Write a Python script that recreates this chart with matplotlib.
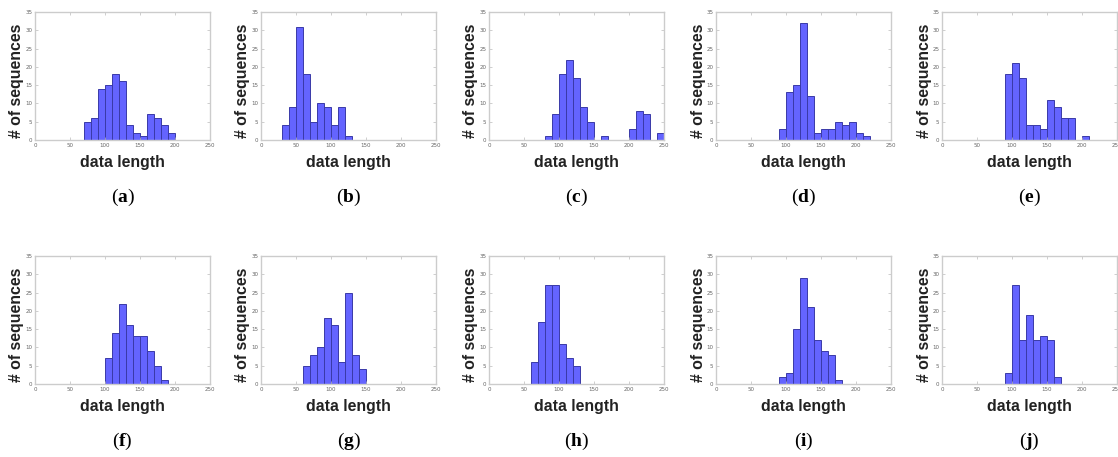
import numpy as np
import matplotlib
matplotlib.use("Agg")
import matplotlib.pyplot as plt

plt.rcParams["mathtext.fontset"] = "custom"
plt.rcParams["mathtext.rm"] = "Liberation Serif"
plt.rcParams["mathtext.bf"] = "Liberation Serif:bold"

# ---- data: histogram counts per panel (bin width 10), first bin left edge ----
bin_width = 10
start_a = 70;  counts_a = [5, 6, 14, 15, 18, 16, 4, 2, 1, 7, 6, 4, 2]
start_b = 30;  counts_b = [4, 9, 31, 18, 5, 10, 9, 4, 9, 1]
start_c = 80;  counts_c = [1, 7, 18, 22, 17, 9, 5, 0, 1, 0, 0, 0, 3, 8, 7, 0, 2]
start_d = 90;  counts_d = [3, 13, 15, 32, 12, 2, 3, 3, 5, 4, 5, 2, 1]
start_e = 90;  counts_e = [18, 21, 17, 4, 4, 3, 11, 9, 6, 6, 0, 1]
start_f = 100; counts_f = [7, 14, 22, 16, 13, 13, 9, 5, 1]
start_g = 60;  counts_g = [5, 8, 10, 18, 16, 6, 25, 8, 4]
start_h = 60;  counts_h = [6, 17, 27, 27, 11, 7, 5]
start_i = 90;  counts_i = [2, 3, 15, 29, 21, 12, 9, 8, 1]
start_j = 90;  counts_j = [3, 27, 12, 19, 12, 13, 12, 2]

panel_labels = ["a", "b", "c", "d", "e", "f", "g", "h", "i", "j"]
starts = [start_a, start_b, start_c, start_d, start_e,
          start_f, start_g, start_h, start_i, start_j]
counts = [counts_a, counts_b, counts_c, counts_d, counts_e,
          counts_f, counts_g, counts_h, counts_i, counts_j]
x_ticks = [0, 50, 100, 150, 200, 250]
y_ticks = [0, 5, 10, 15, 20, 25, 30, 35]
x_label = "data length"
y_label = "# of sequences"

# ---- figure ----
W, H = 1118, 457
fig = plt.figure(figsize=(W / 100, H / 100), dpi=100)

lefts = [35, 261, 489, 716, 942]
ax_w = 175
row_tops = [12, 256]
ax_h = 128

def px_rect(l, t, w, h):
    return [l / W, 1 - (t + h) / H, w / W, h / H]

for k in range(10):
    r, c = divmod(k, 5)
    l, t = lefts[c], row_tops[r]
    ax = fig.add_axes(px_rect(l, t, ax_w, ax_h))
    cnt = np.array(counts[k])
    xs = starts[k] + bin_width * np.arange(len(cnt))
    m = cnt > 0
    ax.bar(xs[m], cnt[m], width=bin_width, align="edge",
           color="#6464ff", edgecolor="#3a3aa8", linewidth=0.7)
    ax.set_xlim(0, 250)
    ax.set_ylim(0, 35)
    ax.set_xticks(x_ticks)
    ax.set_yticks(y_ticks)
    ax.tick_params(direction="in", length=2, width=0.5, labelsize=4,
                   colors="#bbbbbb", labelcolor="#666666", pad=2,
                   top=True, right=True)
    for s in ax.spines.values():
        s.set_color("#cccccc")
        s.set_linewidth(1.0)
    cx = l + ax_w / 2
    # y label
    fig.text((l - 18) / W, 1 - (t + ax_h / 2 + 5) / H, y_label,
             rotation=90, ha="center", va="center", fontsize=11.4,
             fontweight="bold", family="Liberation Sans", color="#222222")
    # x label
    fig.text(cx / W, 1 - (t + 151) / H, x_label, ha="center", va="center",
             fontsize=11.4, fontweight="bold", family="Liberation Sans",
             color="#222222")
    # sub-caption
    fig.text(cx / W, 1 - (t + 185) / H, f"$(\\mathbf{{{panel_labels[k]}}})$",
             ha="center", va="center", fontsize=14)

fig.savefig("out.png", dpi=100)
